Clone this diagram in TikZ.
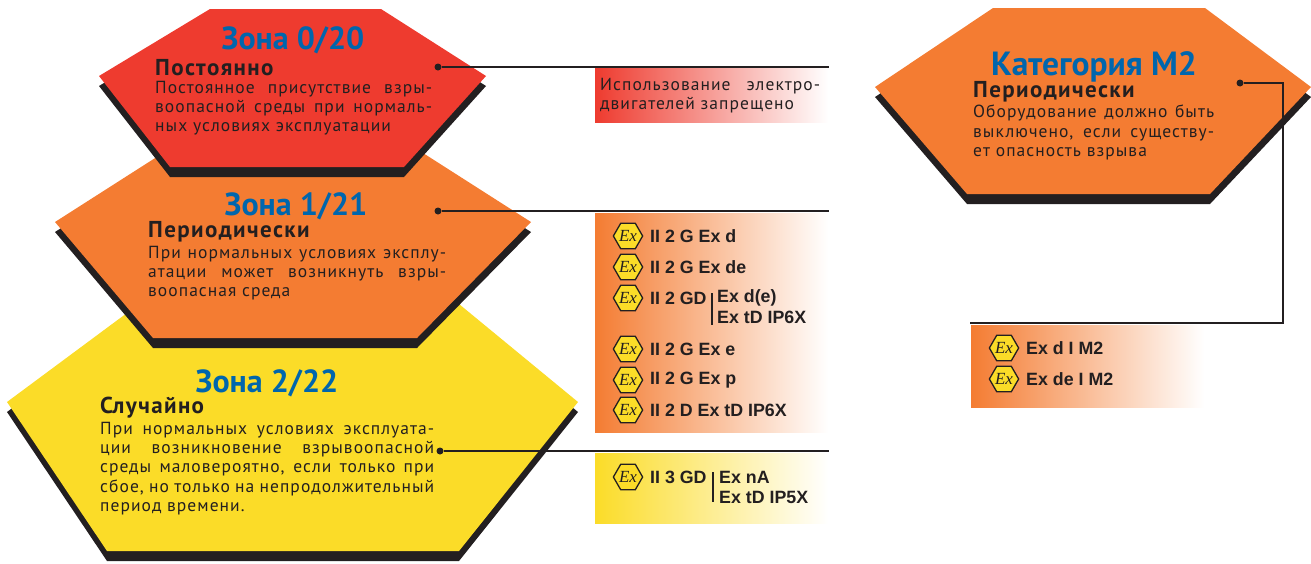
\documentclass[tikz,border=0pt]{standalone}
\usepackage{fontspec}
\setmainfont[LetterSpace=6]{PT Sans}
\newfontfamily\headfont{PT Sans}
\newfontfamily\labelfont{Liberation Sans}
\newfontfamily\exfont{Liberation Serif}
\usetikzlibrary{shapes.geometric}
\definecolor{zonered}{HTML}{EE3B2F}
\definecolor{zoneorange}{HTML}{F47C32}
\definecolor{zoneyellow}{HTML}{FBDC28}
\definecolor{zoneblue}{HTML}{0066AD}
\definecolor{zoneblack}{HTML}{231F20}
\begin{document}
\begin{tikzpicture}[x=1pt, y=-1pt, anchor = north west]

    \tikzset{%
    heading/.style={
        anchor=center,
        inner sep=0,
        text=zoneblue,
        font=\fontsize{32}{32}\selectfont\headfont\bfseries
        },
    title/.style={
        anchor=west,
        inner sep=0,
        text=zoneblack,
        font=\fontsize{23}{23}\selectfont\bfseries
        },
    body/.style={
        anchor=north west,
        inner sep=0,
        align=justify,
        text=zoneblack,
        font=\fontsize{17.5}{19.2}\selectfont
        },
    gradbox/.style={
        anchor=north west,
        inner sep=0,
        minimum width=233,
        right color=white
        },
    dot/.style={
        anchor=center,
        circle,
        fill=zoneblack,
        inner sep=0,
        minimum size=7
        },
    leader/.style={
        draw=zoneblack,
        line width=1.6
        },
    exicon/.style={
        anchor=center,
        regular polygon,
        regular polygon sides=6,
        draw=zoneblack,
        fill=zoneyellow,
        line width=1.3,
        inner sep=0,
        minimum size=29,
        text=zoneblack,
        font=\fontsize{17}{17}\selectfont\exfont\itshape
        },
    exlabel/.style={
        anchor=west,
        inner sep=0,
        text=zoneblack,
        font=\fontsize{17.8}{17.8}\selectfont\labelfont\bfseries
        },
    }

    \useasboundingbox (0,0) rectangle (1311,563);

    % Hexagons, back to front
    \foreach \c/\t/\tl/\tr/\l/\r/\m/\b/\bl/\br in {
        zoneorange/8/993/1205/875/1311/87/194/967/1210,
        zoneyellow/290/158/442/7/578/402/551/107/459,
        zoneorange/130/199/387/55/531/222/338/153/417,
        zonered/9/210/381/99/486/76/167/170/404}
    {
    \fill [zoneblack, yshift=-10] (\tl,\t) -- (\tr,\t) -- (\r,\m) -- (\br,\b) -- (\bl,\b) -- (\l,\m) -- cycle;
    \fill [\c] (\tl,\t) -- (\tr,\t) -- (\r,\m) -- (\br,\b) -- (\bl,\b) -- (\l,\m) -- cycle;
    }

    % Gradient boxes
    \node [gradbox, left color=zonered, minimum height=54] (box-0) at (595,68) {};
    \node [gradbox, left color=zoneorange, minimum height=219] (box-1) at (595,213) {};
    \node [gradbox, left color=zoneyellow, minimum height=70] (box-2) at (595,453) {};
    \node [gradbox, left color=zoneorange, minimum height=82] (box-m) at (971,325) {};

    % Zone headings
    \node [heading] (head-0) at (293,40) {Зона 0/20};
    \node [heading] (head-1) at (296,206) {Зона 1/21};
    \node [heading] (head-2) at (267,383) {Зона 2/22};
    \node [heading, font=\fontsize{33.5}{33.5}\selectfont\headfont\bfseries] (head-m) at (1094,67) {Категория М2};

    % Titles
    \node [title] (title-0) at (155,68) {Постоянно};
    \node [title] (title-1) at (148,232) {Периодически};
    \node [title] (title-2) at (100,408) {Случайно};
    \node [title] (title-m) at (973,92) {Периодически};

    % Body texts
    \node [body, text width=277] (text-0) at (155,81) {Постоянное присутствие взры-\linebreak воопасной среды при нормаль-\linebreak ных условиях эксплуатации};
    \node [body, text width=298] (text-1) at (148,246) {При нормальных условиях эксплу-\linebreak атации может возникнуть взры-\linebreak воопасная среда};
    \node [body, text width=334] (text-2) at (100,422) {При нормальных условиях эксплуата-\linebreak ции возникновение взрывоопасной\linebreak среды маловероятно, если только при\linebreak сбое, но только на непродолжительный\linebreak период времени.};
    \node [body, text width=241] (text-m) at (973,105) {Оборудование должно быть\linebreak выключено, если существу-\linebreak ет опасность взрыва};
    \node [body, text width=220] (text-b) at (600,78) {Использование электро-\linebreak двигателей запрещено};

    % Ex marks and their labels
    \foreach \y/\l [count=\i] in {236/II 2 G Ex d, 267/II 2 G Ex de, 298/II 2 GD, 349/II 2 G Ex e, 380/II 2 G Ex p, 410/II 2 D Ex tD IP6X, 477/II 3 GD}
    {
    \node [exicon] (ex-\i) at (628,\y) {Ex};
    \node [exlabel] (label-\i) at (650,\y) {\l};
    }
    \foreach \y/\l [count=\i] in {348/Ex d I M2, 379/Ex de I M2}
    {
    \node [exicon] (exm-\i) at (1004,\y) {Ex};
    \node [exlabel] (labelm-\i) at (1026,\y) {\l};
    }

    % Labels behind the bars
    \node [exlabel] (sub-1) at (717,298) {Ex d(e)};
    \node [exlabel] (sub-2) at (717,317) {Ex tD IP6X};
    \node [exlabel] (sub-3) at (719,477) {Ex nA};
    \node [exlabel] (sub-4) at (719,497) {Ex tD IP5X};
    \coordinate (bar-1a) at (712,293);
    \coordinate (bar-1b) at (712,325);
    \coordinate (bar-2a) at (713,472);
    \coordinate (bar-2b) at (713,502);
    \draw [leader, line width=1.2] (bar-1a) -- (bar-1b);
    \draw [leader, line width=1.2] (bar-2a) -- (bar-2b);

    % Leader lines
    \node [dot] (dot-0) at (438,67) {};
    \node [dot] (dot-1) at (438,211) {};
    \node [dot] (dot-2) at (440,451) {};
    \node [dot] (dot-m) at (1240,83) {};
    \coordinate (end-0) at (829,67);
    \coordinate (end-1) at (829,211);
    \coordinate (end-2) at (829,451);
    \coordinate (corner-1) at (1283,83);
    \coordinate (corner-2) at (1283,323);
    \coordinate (end-m) at (970,323);
    \foreach \i in {0,1,2}
    \draw [leader] (dot-\i) -- (end-\i);
    \draw [leader] (dot-m) -- (corner-1) -- (corner-2) -- (end-m);

\end{tikzpicture}
\end{document}
